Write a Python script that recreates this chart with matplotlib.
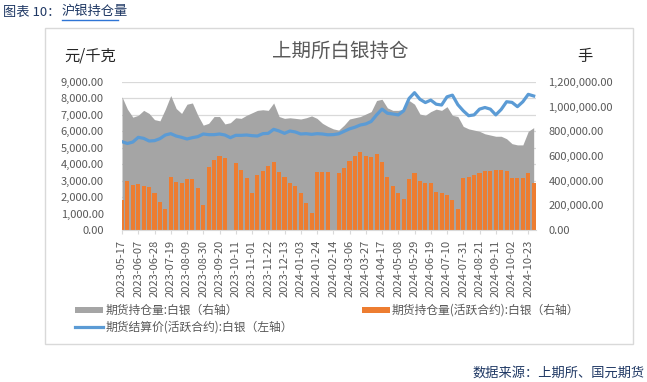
import matplotlib

matplotlib.use("Agg")
import matplotlib.pyplot as plt  # noqa: E402
import pandas as pd  # noqa: E402
from matplotlib.lines import Line2D  # noqa: E402
from matplotlib.patches import Rectangle  # noqa: E402
from matplotlib.ticker import FuncFormatter  # noqa: E402

plt.rcParams["font.family"] = ["Noto Sans CJK SC", "DejaVu Sans"]

# weekly points (Wednesday of each week), 2023-05-17 .. 2024-10-30
weeks = pd.date_range("2023-05-17", periods=77, freq="7D")

# total open interest, thousand lots (right axis)
oi_total_k = [
    1080, 980, 915, 930, 970, 945, 895, 885, 980, 1090, 985, 945, 1020, 1030, 930, 850, 865, 920, 920,
    860, 870, 910, 905, 930, 950, 970, 975, 970, 1030, 920, 905, 910, 905, 900, 910, 925, 905, 865, 840,
    820, 810, 850, 900, 910, 920, 940, 960, 1050, 1060, 990, 970, 970, 980, 1050, 1020, 940, 930, 960,
    980, 970, 1000, 930, 920, 840, 820, 810, 800, 780, 770, 760, 760, 740, 700, 690, 690, 800, 830,
]
# active contract open interest, thousand lots (right axis)
oi_active_k = [
    240, 400, 365, 375, 360, 345, 300, 230, 170, 430, 390, 380, 410, 410, 340, 200, 510, 570, 600,
    580, 0, 540, 490, 420, 300, 450, 480, 520, 550, 470, 430, 380, 360, 300, 220, 140, 470, 470, 470,
    0, 460, 500, 560, 600, 630, 600, 590, 620, 550, 430, 360, 300,
    250, 410, 460, 400, 380, 380, 310, 300, 280, 240, 170, 420, 430, 450, 460, 480, 480, 490, 490,
    480, 420, 420, 420, 460, 380,
]
# settlement price of active contract, yuan/kg (left axis)
settle = [
    5372, 5260, 5350, 5635, 5574, 5412, 5432, 5554, 5777, 5858, 5716, 5635, 5534, 5615, 5676, 5838,
    5797, 5797, 5838, 5777, 5615, 5757, 5757, 5777, 5736, 5716, 5858, 5878, 6122, 6020, 5878, 6020,
    5960, 5838, 5858, 5818, 5858, 5838, 5790,
    5800, 5850, 6000, 6150, 6250, 6385, 6450, 6600, 7000, 7350, 7100, 7054, 7000, 7250, 8000, 8350,
    7950, 7750, 7900, 7650, 7600, 8100, 8200, 7620, 7250, 6950, 7000, 7350, 7450, 7350, 7000, 7330,
    7800, 7760, 7500, 7800, 8250, 8150,
]
tick_dates = pd.date_range("2023-05-17", "2024-10-23", freq="21D")

GRAY = "#A5A5A5"
ORANGE = "#ED7D31"
BLUE = "#5B9BD5"
GRID = "#D9D9D9"
TXT = "#595959"
NAVY = "#1F3864"

W, H = 647, 382


def fx(px):
    return px / W


def fy(py):
    return 1 - py / H


fig = plt.figure(figsize=(W / 100, H / 100), dpi=100)
fig.patches.append(Rectangle((fx(45), fy(344)), fx(633) - fx(45), fy(28) - fy(344),
                             transform=fig.transFigure, fill=False, edgecolor=GRID, lw=1))

ax = fig.add_axes([fx(122), fy(230), fx(536) - fx(122), fy(82) - fy(230)])
oi_total = [v * 1000 for v in oi_total_k]
oi_active = [v * 1000 for v in oi_active_k]

for i in range(1, 10):
    ax.axhline(i * 1.2e6 / 9, color=GRID, lw=0.9, zorder=0)
ax.fill_between(weeks, 0, oi_total, color=GRAY, lw=0, zorder=1)
ax.bar(weeks, oi_active, width=5.2, color=ORANGE, lw=0, zorder=2)
ax.set_ylim(0, 1.2e6)
ax.set_yticks([i * 200000 for i in range(7)])
ax.yaxis.set_major_formatter(FuncFormatter(lambda v, p: f"{v:,.2f}"))
ax.set_xlim(pd.Timestamp("2023-05-17"), pd.Timestamp("2024-11-02"))
ax.set_xticks(tick_dates)
ax.set_xticklabels([d.strftime("%Y-%m-%d") for d in tick_dates], rotation=90)
ax.tick_params(axis="x", length=3, color=GRID, pad=4, labelsize=8, labelcolor=TXT)
for s in ["top", "left", "right"]:
    ax.spines[s].set_visible(False)
ax.spines["bottom"].set_color(GRID)

ax2 = ax.twinx()
ax2.plot(weeks, settle, color=BLUE, lw=2.3, zorder=3)
ax2.set_ylim(0, 9000)
ax2.set_yticks(range(0, 10000, 1000))
ax2.yaxis.tick_left()
ax2.yaxis.set_major_formatter(FuncFormatter(lambda v, p: f"{v:,.2f}"))
ax2.tick_params(axis="y", length=0, pad=13, labelsize=8, labelcolor=TXT)
for s in ax2.spines.values():
    s.set_visible(False)

# right axis labels belong to the open-interest axes
ax.yaxis.tick_right()
ax.tick_params(axis="y", which="both", left=False, labelleft=False, right=False,
               labelright=True, length=0, pad=9, labelsize=8, labelcolor=TXT)

# titles and units
fig.text(fx(340), fy(51), "上期所白银持仓", ha="center", va="center", fontsize=14, color=TXT)
fig.text(fx(64), fy(56), "元/千克", ha="left", va="center", fontsize=11, color="#262626")
fig.text(fx(585), fy(57), "手", ha="center", va="center", fontsize=11, color="#262626")

# legend
fig.patches.append(Rectangle((fx(75), fy(313)), fx(28), 6 / H, transform=fig.transFigure,
                             color=GRAY, lw=0))
fig.text(fx(106), fy(310), "期货持仓量:白银（右轴）", va="center", fontsize=8.5, color=TXT)
fig.patches.append(Rectangle((fx(362), fy(313)), fx(28), 6 / H, transform=fig.transFigure,
                             color=ORANGE, lw=0))
fig.text(fx(392), fy(310), "期货持仓量(活跃合约):白银（右轴）", va="center", fontsize=8.5, color=TXT)
fig.lines.append(Line2D([fx(75), fx(103)], [fy(327), fy(327)], transform=fig.transFigure,
                        color=BLUE, lw=2.3))
fig.text(fx(106), fy(327), "期货结算价(活跃合约):白银（左轴）", va="center", fontsize=8.5, color=TXT)

# header and source
fig.text(fx(3), fy(12), "图表 10：", va="center", fontsize=9.5, color=NAVY)
fig.text(fx(62), fy(12), "沪银持仓量", va="center", fontsize=9.5, color=NAVY)
fig.lines.append(Line2D([fx(62), fx(118)], [fy(20), fy(20)], transform=fig.transFigure,
                        color="#2E75D6", lw=1))
fig.text(fx(645), fy(373), "数据来源：上期所、国元期货", ha="right", va="center", fontsize=9.5, color=NAVY)

fig.savefig("out.png", dpi=100)
